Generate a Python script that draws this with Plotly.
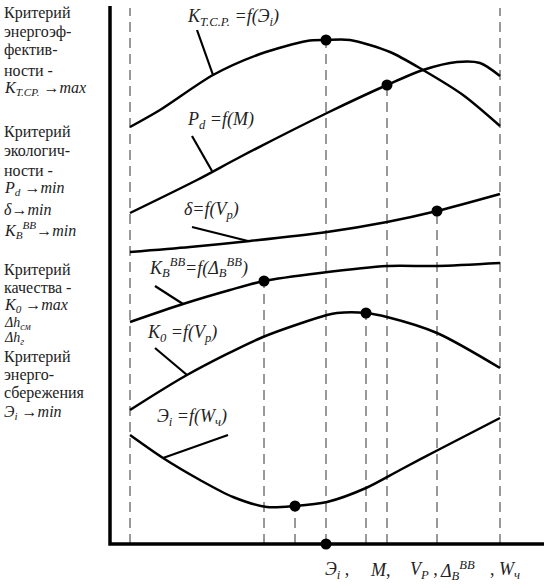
import plotly.graph_objects as go

# curves: x measured from the vertical axis, y measured up from the horizontal axis
kt_x = [20, 50, 103, 150, 197, 216, 240, 280, 313, 353, 390]
kt_y = [417, 434, 469, 490, 503, 504, 504, 492, 474, 449, 418]

pd_x = [20, 87, 130, 217, 277, 313, 347, 370, 390]
pd_y = [331, 364, 387, 431, 459, 474, 482, 481, 468]

dl_x = [20, 80, 140, 217, 277, 327, 390]
dl_y = [292, 297, 303, 312, 322, 333, 350]

kb_x = [20, 73, 120, 154, 210, 277, 327, 390]
kb_y = [222, 240, 254, 263, 271, 278, 278, 281]

k0_x = [20, 77, 153, 217, 227, 256, 277, 327, 390]
k0_y = [134, 169, 207, 229, 231, 231, 227, 211, 176]

ei_x = [20, 53, 90, 123, 157, 185, 217, 256, 290, 328, 390]
ei_y = [109, 86, 64, 47, 37, 38, 42, 56, 74, 94, 126]

# optimum points on each curve
opt_x = [216, 277, 327, 154, 256, 185]
opt_y = [504, 459, 333, 263, 231, 38]

# boundary levels (full-height dashed lines)
edge_x = [20, 390]
top_y = 536
axis_len_x = 434

# leader lines: (label end, curve end)
leaders = [
    ((87, 514), (103, 469)),
    ((82, 408), (102, 373)),
    ((82, 317), (138, 303)),
    ((45, 258), (73, 240)),
    ((45, 196), (77, 169)),
    ((118, 109), (53, 86)),
]

curve_labels = [
    ("<i>K</i><sub><i>T.C.P.</i></sub> <i>=f(Э</i><sub><i>i</i></sub><i>)</i>", 75, 527),
    ("<i>P</i><sub><i>d</i></sub> <i>=f(M)</i>", 75, 424),
    ("<i>δ=f(V</i><sub><i>p</i></sub><i>)</i>", 72, 334),
    ("<i>K</i><sub><i>B</i></sub><sup><i>BB</i></sup><i>=f(Δ</i><sub><i>B</i></sub><sup><i>BB</i></sup><i>)</i>", 37, 277),
    ("<i>K</i><sub><i>0</i></sub> <i>=f(V</i><sub><i>p</i></sub><i>)</i>", 35, 211),
    ("<i>Э</i><sub><i>i</i></sub> <i>=f(W</i><sub><i>ч</i></sub><i>)</i>", 45, 127),
]

left_lines = [
    "Критерий", "энергоэф-", "фектив-", "ности -",
    "<i>K</i><sub><i>T.CP.</i></sub> →<i>max</i>",
    "Критерий", "экологич-", "ности -",
    "<i>P</i><sub><i>d</i></sub> →<i>min</i>",
    "<i>δ</i>→<i>min</i>",
    "<i>K</i><sub><i>B</i></sub><sup><i>BB</i></sup>→<i>min</i>",
    "Критерий", "качества -",
    "<i>K</i><sub><i>0</i></sub> →<i>max</i>",
    "<i>Δh</i><sub><i>см</i></sub>",
    "<i>Δh</i><sub><i>г</i></sub>",
    "Критерий", "энерго-", "сбережения",
    "<i>Э</i><sub><i>i</i></sub> →<i>min</i>",
]
left_y = [531, 512, 494, 474, 456, 412, 394, 374, 356, 335, 314,
          274, 257, 239, 221, 206, 187, 169, 151, 132]

bottom_labels = [
    ("<i>Э</i><sub><i>i</i></sub> ,", 213),
    ("<i>M</i>,", 258),
    ("<i>V</i><sub><i>P</i></sub> ,", 298),
    ("<i>Δ</i><sub><i>B</i></sub><sup><i>BB</i></sup>", 328),
    (", <i>W</i><sub><i>ч</i></sub>", 378),
]

SERIF = "Liberation Serif"

fig = go.Figure()

# dashed guides
dash = dict(color="#333", width=1, dash="10px,6px")
for x in edge_x:
    fig.add_trace(go.Scatter(x=[x, x], y=[0, top_y], mode="lines", line=dash))
for x, y in zip(opt_x, opt_y):
    fig.add_trace(go.Scatter(x=[x, x], y=[0, y], mode="lines", line=dash))

# curves
for xs, ys in [(kt_x, kt_y), (pd_x, pd_y), (dl_x, dl_y),
               (kb_x, kb_y), (k0_x, k0_y), (ei_x, ei_y)]:
    fig.add_trace(go.Scatter(x=xs, y=ys, mode="lines",
                             line=dict(color="black", width=2.5, shape="spline", smoothing=0.8)))

for (a, b) in leaders:
    fig.add_trace(go.Scatter(x=[a[0], b[0]], y=[a[1], b[1]], mode="lines",
                             line=dict(color="black", width=2.2)))

# axes
fig.add_trace(go.Scatter(x=[0, 0, axis_len_x], y=[top_y + 2, 0, 0], mode="lines",
                         line=dict(color="black", width=3.5)))

fig.add_trace(go.Scatter(x=opt_x + [opt_x[0]], y=opt_y + [0], mode="markers",
                         marker=dict(color="black", size=11)))

for text, x, y in curve_labels:
    fig.add_annotation(x=x, y=y, text=text, showarrow=False, xanchor="left",
                       yanchor="middle", font=dict(family=SERIF, size=18, color="#222"))

for text, y in zip(left_lines, left_y):
    if "Δh" in text:
        size = 14
    elif "<i>" in text:
        size = 16
    else:
        size = 16
    fig.add_annotation(x=-108, y=y, text=text, showarrow=False, xanchor="left",
                       yanchor="middle", font=dict(family=SERIF, size=size, color="#222"))

for text, x in bottom_labels:
    fig.add_annotation(x=x, y=-26, text=text, showarrow=False, xanchor="left",
                       yanchor="middle", font=dict(family=SERIF, size=18, color="#222"))

fig.update_layout(
    width=544, height=588, margin=dict(l=0, r=0, t=0, b=0),
    showlegend=False, plot_bgcolor="white", paper_bgcolor="white",
    xaxis=dict(range=[-110, 434], visible=False),
    yaxis=dict(range=[-44, 544], visible=False),
)

fig.write_html("out.html", config={"displayModeBar": False},
               post_script="document.body.style.margin='0';")
